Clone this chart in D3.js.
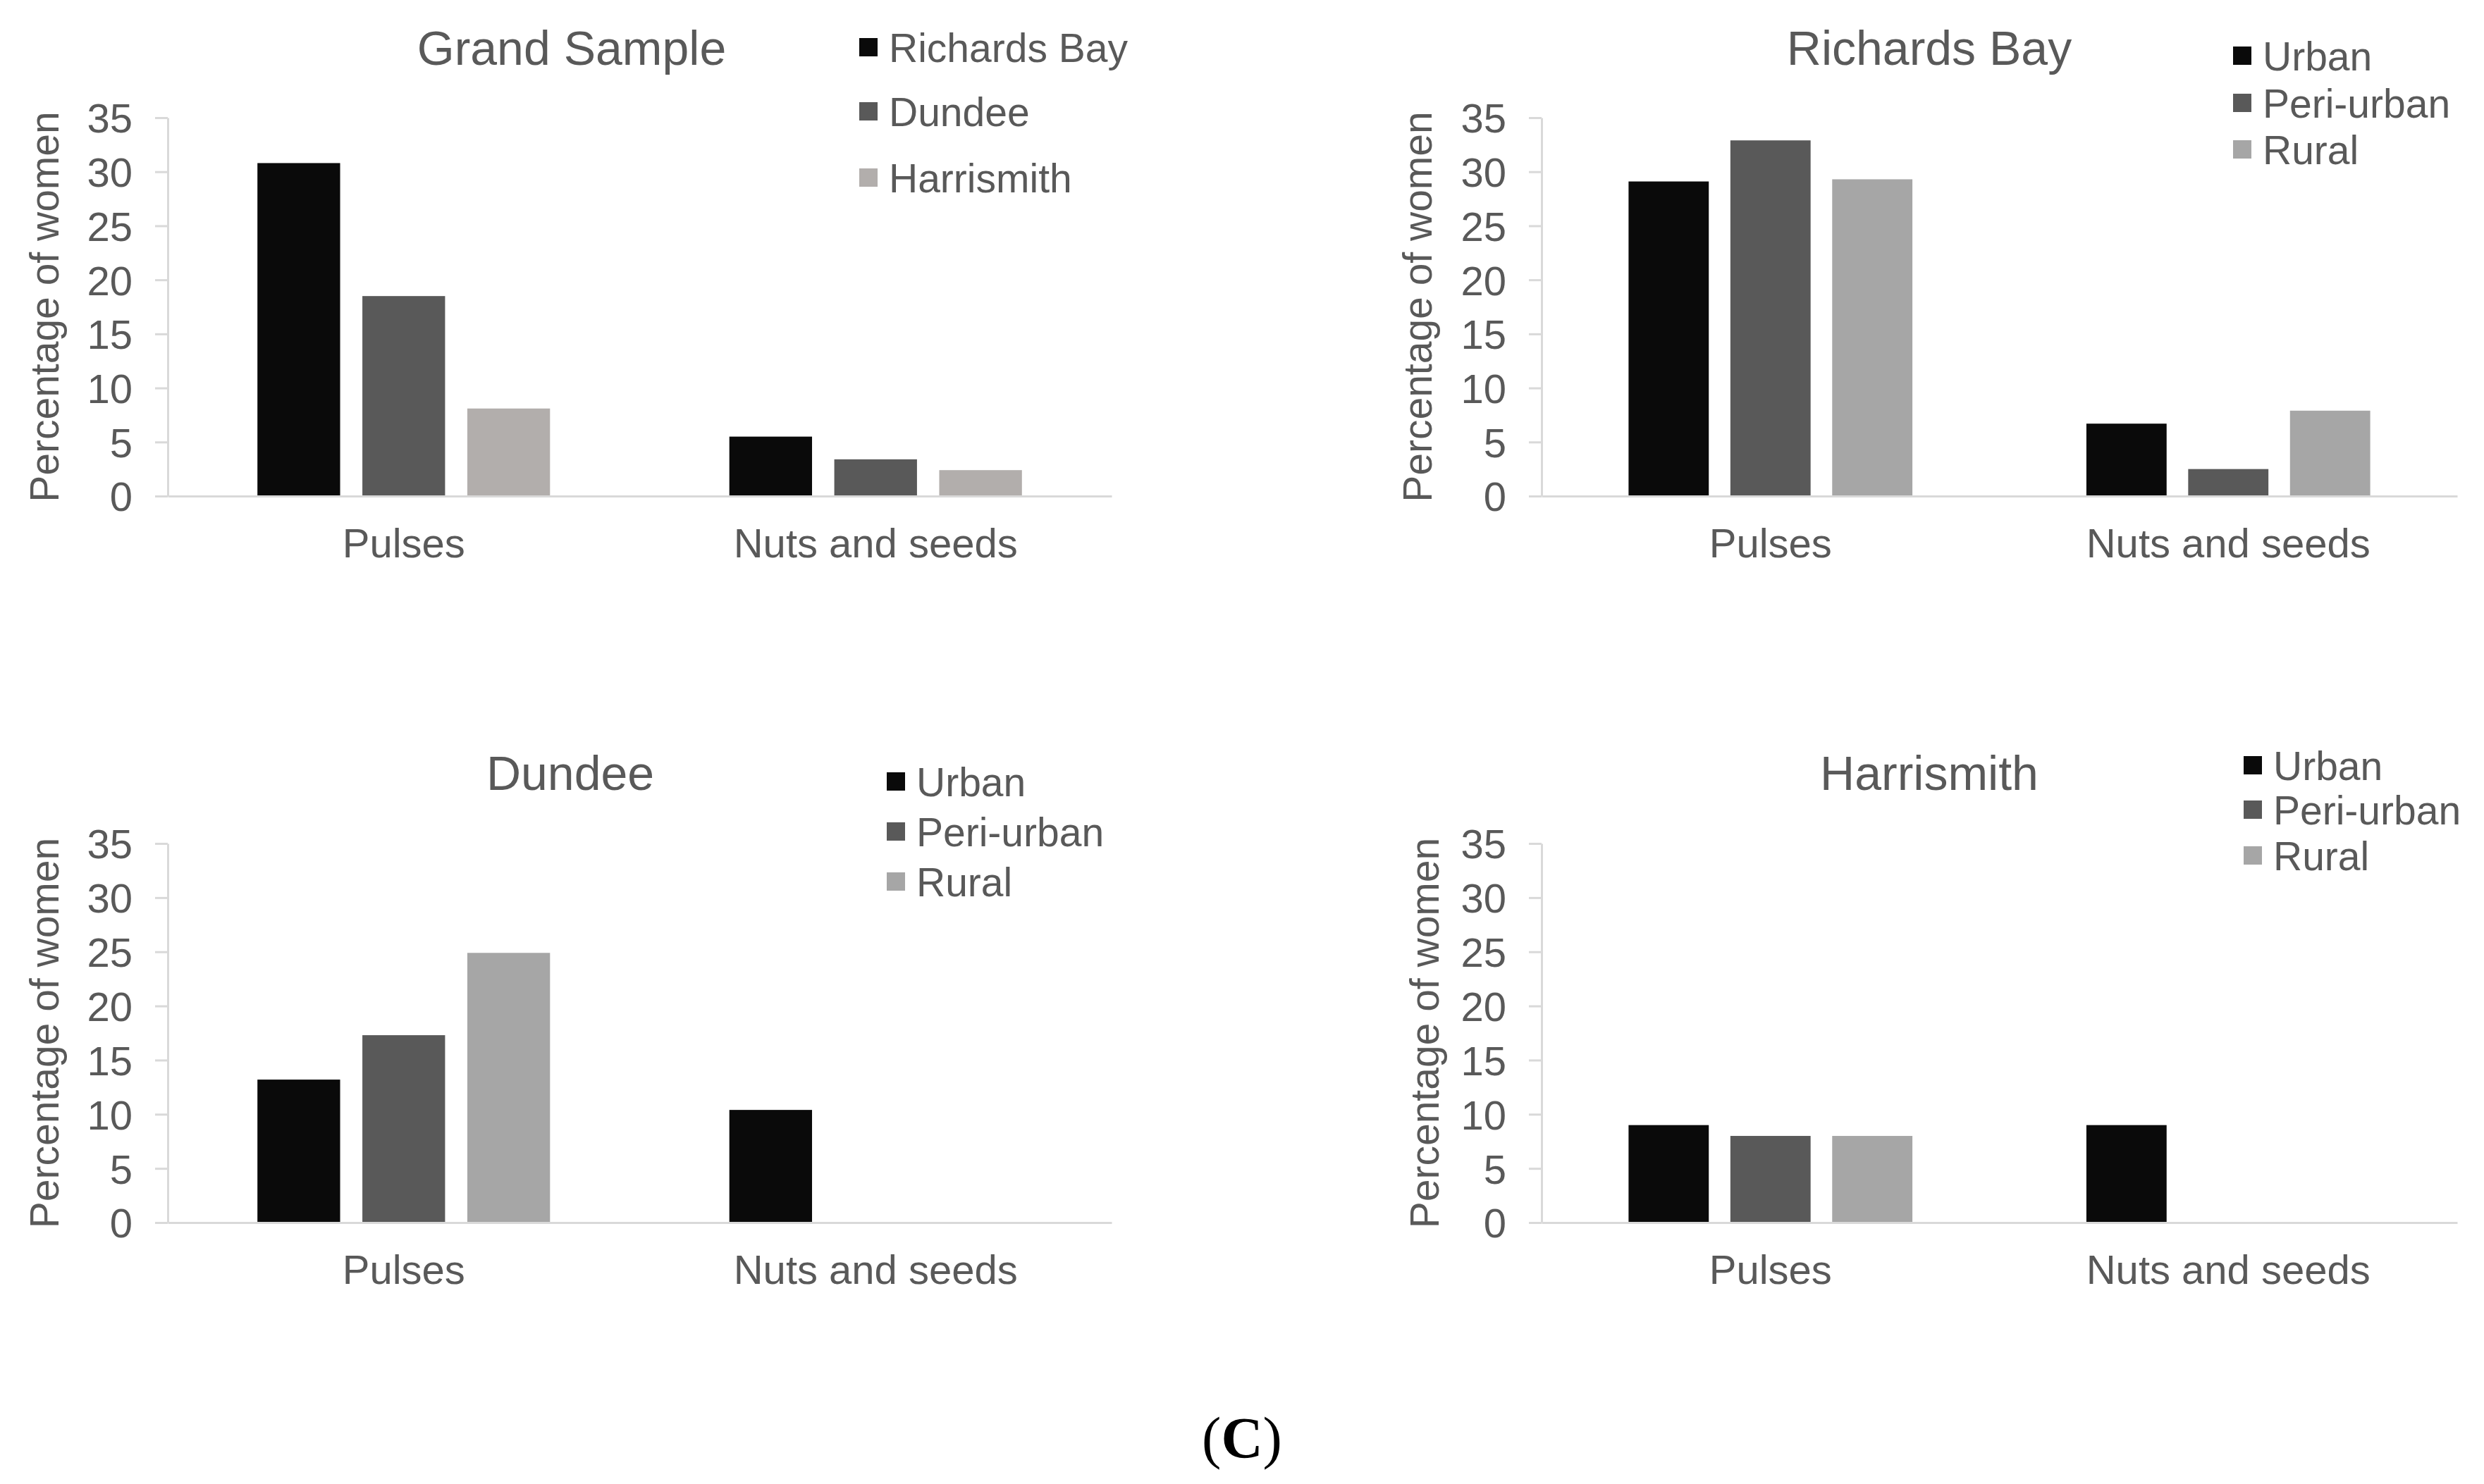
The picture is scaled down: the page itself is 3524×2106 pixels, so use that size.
<!DOCTYPE html>
<html>
<head>
<meta charset="utf-8">
<script src="https://cdn.jsdelivr.net/npm/d3@7"></script>
<style>
  html, body { margin: 0; padding: 0; background: #fff; }
  svg text { font-family: "Liberation Sans", Arial, sans-serif; fill: #595959; }
</style>
</head>
<body>
<svg id="chart" width="3524" height="2106"></svg>
<script>
const categories = ['Pulses', 'Nuts and seeds'];
const siteSeries = ['Richards Bay', 'Dundee', 'Harrismith'];
const zoneSeries = ['Urban', 'Peri-urban', 'Rural'];
const yTicks = [0, 5, 10, 15, 20, 25, 30, 35];

// values per series, in category order (Pulses, Nuts and seeds)
const grandSampleValues = [[30.8, 5.5], [18.5, 3.4], [8.1, 2.4]];
const richardsBayValues = [[29.1, 6.7], [32.9, 2.5], [29.3, 7.9]];
const dundeeValues = [[13.2, 10.4], [17.3, 0], [24.9, 0]];
const harrismithValues = [[9.0, 9.0], [8.0, 0], [8.0, 0]];

const GREYS = ['#0a0a0a', '#595959', '#a6a6a6'];
const GREYS_GRAND = ['#0a0a0a', '#595959', '#b2aeac'];
const AXIS_COLOR = '#d9d9d9';

const svg = d3.select('#chart');

function drawPanel(p) {
  const { title, series, values, colors } = p;
  const g = svg.append('g');

  const x0 = d3.scaleBand()
    .domain(categories)
    .range([p.left, p.right])
    .paddingInner(0.38)
    .paddingOuter(0.19);
  const x1 = d3.scaleBand()
    .domain(series)
    .range([0, x0.bandwidth()])
    .paddingInner(0.212);
  const y = d3.scaleLinear().domain([0, 35]).range([p.bottom, p.top]);
  const color = d3.scaleOrdinal().domain(series).range(colors);

  // bars
  const rows = [];
  series.forEach((s, i) => {
    categories.forEach((c, j) => rows.push({ s, c, v: values[i][j] }));
  });
  g.selectAll('rect.bar')
    .data(rows.filter(d => d.v > 0))
    .enter()
    .append('rect')
    .attr('class', 'bar')
    .attr('x', d => x0(d.c) + x1(d.s))
    .attr('width', x1.bandwidth())
    .attr('y', d => y(d.v))
    .attr('height', d => y(0) - y(d.v))
    .style('fill', d => color(d.s));

  // y axis
  const yAxis = g.append('g')
    .attr('transform', `translate(${p.left},0)`)
    .call(d3.axisLeft(y).tickValues(yTicks).tickSize(18).tickSizeOuter(0).tickPadding(32));
  yAxis.select('.domain').attr('stroke', AXIS_COLOR).attr('stroke-width', 3);
  yAxis.selectAll('.tick line').attr('stroke', AXIS_COLOR).attr('stroke-width', 3);
  yAxis.selectAll('.tick text')
    .style('font-size', '58px')
    .attr('fill', '#595959')
    .attr('dy', '0.36em');

  // x axis
  const xAxis = g.append('g')
    .attr('transform', `translate(0,${p.bottom})`)
    .call(d3.axisBottom(x0).tickSize(0).tickSizeOuter(0).tickPadding(46));
  xAxis.select('.domain').attr('stroke', AXIS_COLOR).attr('stroke-width', 3);
  xAxis.selectAll('.tick text')
    .style('font-size', '58px')
    .attr('fill', '#595959')
    .attr('dy', '0.71em');

  // y label
  g.append('text')
    .attr('transform', `translate(${p.ylabelX},${(p.top + p.bottom) / 2}) rotate(-90)`)
    .attr('text-anchor', 'middle')
    .attr('dy', '0.36em')
    .style('font-size', '57px')
    .text('Percentage of women');

  // title
  g.append('text')
    .attr('x', p.titleX)
    .attr('y', p.titleY)
    .attr('text-anchor', 'middle')
    .attr('dy', '0.36em')
    .style('font-size', '68px')
    .text(title);

  // legend
  const leg = g.selectAll('g.legend')
    .data(series)
    .enter()
    .append('g')
    .attr('class', 'legend')
    .attr('transform', (d, i) => `translate(${p.legendX},${p.legendY[i]})`);
  leg.append('rect')
    .attr('x', 0)
    .attr('y', -13)
    .attr('width', 26)
    .attr('height', 26)
    .style('fill', d => color(d));
  leg.append('text')
    .attr('x', 42)
    .attr('dy', '0.36em')
    .style('font-size', '57px')
    .text(d => d);
}

drawPanel({
  title: 'Grand Sample', series: siteSeries, values: grandSampleValues, colors: GREYS_GRAND,
  left: 238, right: 1577, top: 167, bottom: 704,
  ylabelX: 62, titleX: 811, titleY: 68,
  legendX: 1219, legendY: [67, 158, 252]
});
drawPanel({
  title: 'Richards Bay', series: zoneSeries, values: richardsBayValues, colors: GREYS,
  left: 2187, right: 3486, top: 167, bottom: 704,
  ylabelX: 2010, titleX: 2737, titleY: 68,
  legendX: 3168, legendY: [79, 146, 212]
});
drawPanel({
  title: 'Dundee', series: zoneSeries, values: dundeeValues, colors: GREYS,
  left: 238, right: 1577, top: 1197, bottom: 1735,
  ylabelX: 62, titleX: 809, titleY: 1097,
  legendX: 1258, legendY: [1109, 1180, 1251]
});
drawPanel({
  title: 'Harrismith', series: zoneSeries, values: harrismithValues, colors: GREYS,
  left: 2187, right: 3486, top: 1197, bottom: 1735,
  ylabelX: 2020, titleX: 2737, titleY: 1097,
  legendX: 3183, legendY: [1086, 1149, 1214]
});

// panel tag
const tag = svg.append('text')
  .attr('x', 1762)
  .attr('y', 2068)
  .attr('text-anchor', 'middle')
  .style('font-family', '"Liberation Serif", "Times New Roman", serif')
  .style('font-size', '82px')
  .style('fill', '#000');
tag.append('tspan').text('(');
tag.append('tspan').style('font-weight', 'bold').style('fill', '#000').text('C');
tag.append('tspan').text(')');
</script>
</body>
</html>
